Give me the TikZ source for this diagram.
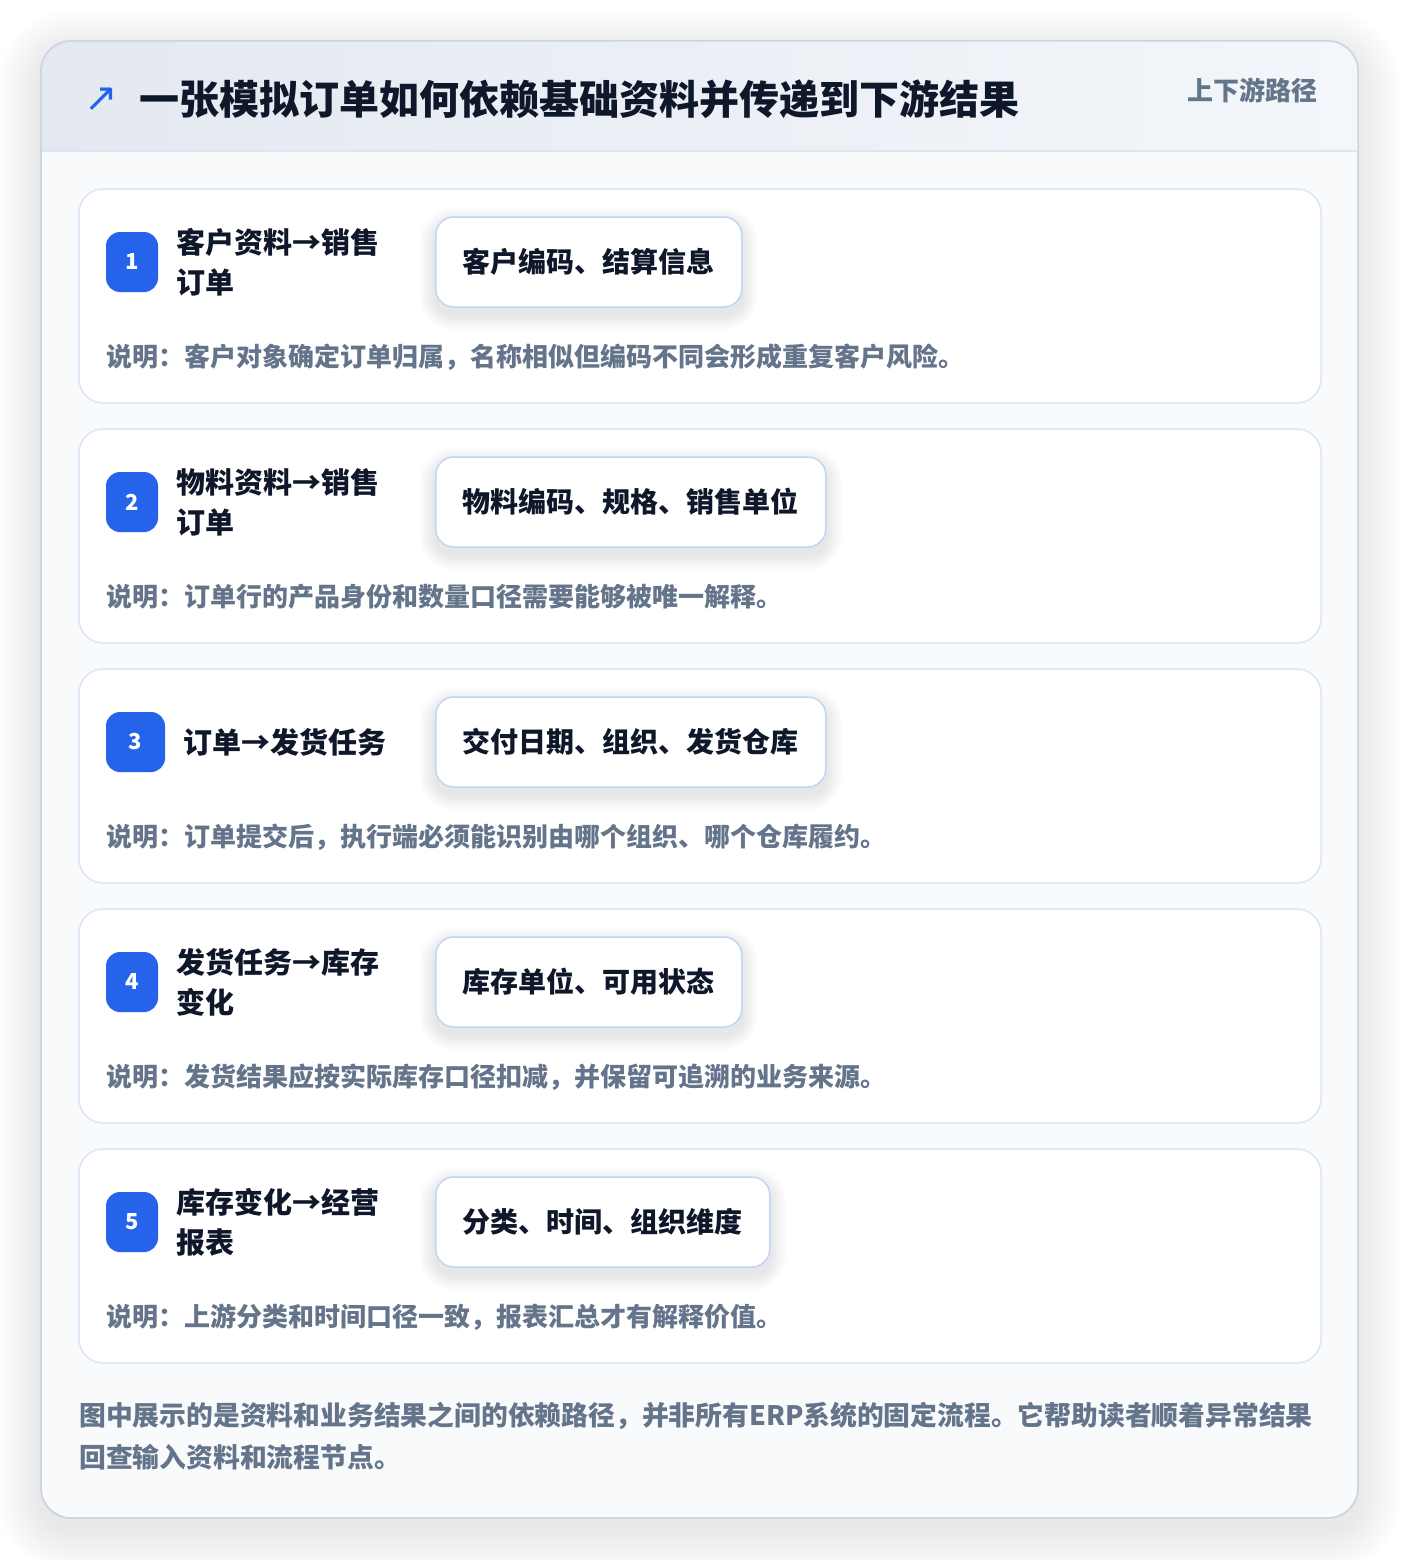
\documentclass[tikz,border=0pt]{standalone}
\usepackage{fontspec}
\setmainfont{Noto Sans CJK SC}
\newfontfamily\symfont{DejaVu Sans}
\pgfdeclarelayer{bg}
\pgfdeclarelayer{sh}
\pgfsetlayers{bg,sh,main}
\definecolor{ink}{HTML}{0F172A}
\definecolor{muted}{HTML}{64748B}
\definecolor{brand}{HTML}{2563EB}
\definecolor{cardline}{HTML}{CBD5E1}
\definecolor{cardbody}{HTML}{F9FAFC}
\definecolor{hdrL}{HTML}{E4E9F1}
\definecolor{hdrR}{HTML}{F3F6FA}
\definecolor{hdrline}{HTML}{DBE6F5}
\definecolor{stepline}{HTML}{DCE7F6}
\definecolor{chipline}{HTML}{BFD6F6}
\tikzset{
  outercard/.style={draw=cardline, line width=1.5pt, fill=cardbody, rounded corners=30pt,
    minimum width=1317pt, minimum height=1477pt, inner sep=0pt},
  stepcard/.style={draw=stepline, line width=1.5pt, fill=white, rounded corners=24pt,
    minimum width=1242pt, minimum height=214pt, inner sep=0pt},
  badge/.style={fill=brand, rounded corners=14pt, minimum height=60pt, inner sep=0pt,
    text=white, font=\fontsize{22}{24}\selectfont\bfseries},
  steptitle/.style={anchor=west, inner sep=0pt, align=left, text=ink,
    font=\fontsize{29}{40}\selectfont\bfseries},
  chip/.style={anchor=west, draw=chipline, line width=1.5pt, fill=white, rounded corners=18pt,
    minimum height=90pt, inner xsep=27pt, inner ysep=0pt, text=ink,
    font=\fontsize{28}{30}\selectfont\bfseries},
  softshadow/.style={fill=black, opacity=0.006},
  desc/.style={anchor=west, inner sep=0pt, text=muted, font=\fontsize{26}{28}\selectfont\bfseries},
}
\newcommand\mkstep[6]{%
  \begin{pgfonlayer}{bg}
    \node[stepcard] (s#1) at (700, #2+107) {};
  \end{pgfonlayer}
  \node[badge, minimum width=#3pt] (b#1) at (106+#3/2, #2+73) {#1};
  \node[steptitle] (t#1) at (106+#3+18, #2+73) {#4};
  \node[chip] (c#1) at (435, #2+73) {#5};
  \begin{pgfonlayer}{sh}
    \foreach \i in {1,...,12}{
      \fill[softshadow, rounded corners={(18+\i*1.3)*1pt}]
        ([xshift={-\i*1.3pt}, yshift={-(7+\i*1.3)*1pt}]c#1.south west)
        rectangle ([xshift={\i*1.3pt}, yshift={(-7+\i*1.3)*1pt}]c#1.north east);
    }
  \end{pgfonlayer}
  \node[desc] (d#1) at (106, #2+168) {说明：#6};
}
\begin{document}
\begin{tikzpicture}[x=1pt,y=-1pt]
\useasboundingbox (0,0) rectangle (1400,1560);
\begin{pgfonlayer}{bg}
\fill[white] (0,0) rectangle (1400,1560);
\foreach \i in {1,...,22}{
  \fill[fill=black, opacity=0.0042, rounded corners={(30+\i*2)*1pt}]
    (41-\i*2, 41+12-\i*2) rectangle (1358+\i*2, 1518+12+\i*2);
}
\node[outercard] (card) at (699.5,779.5) {};
\begin{scope}
  \clip[rounded corners=30pt] (41,41) rectangle (1358,1518);
  \shade[left color=hdrL, right color=hdrR] (41,41) rectangle (1358,151);
\end{scope}
\draw[hdrline, line width=1.5pt] (42,151) -- (1357,151);
\draw[cardline, line width=1.5pt, rounded corners=30pt] (41,41) rectangle (1358,1518);
\end{pgfonlayer}
\node[text=brand, inner sep=0pt, font=\symfont\fontsize{40}{42}\selectfont] (icon) at (101,100) {↗};
\node[anchor=west, inner sep=0pt, text=ink, font=\fontsize{40}{44}\selectfont\bfseries] (title) at (139,99) {一张模拟订单如何依赖基础资料并传递到下游结果};
\node[anchor=east, inner sep=0pt, text=muted, font=\fontsize{26}{28}\selectfont\bfseries] (tag) at (1318,90) {上下游路径};
\mkstep{1}{189}{52}{客户资料→销售\\订单}{客户编码、结算信息}{客户对象确定订单归属，名称相似但编码不同会形成重复客户风险。}
\mkstep{2}{429}{52}{物料资料→销售\\订单}{物料编码、规格、销售单位}{订单行的产品身份和数量口径需要能够被唯一解释。}
\mkstep{3}{669}{59}{订单→发货任务}{交付日期、组织、发货仓库}{订单提交后，执行端必须能识别由哪个组织、哪个仓库履约。}
\mkstep{4}{909}{52}{发货任务→库存\\变化}{库存单位、可用状态}{发货结果应按实际库存口径扣减，并保留可追溯的业务来源。}
\mkstep{5}{1149}{52}{库存变化→经营\\报表}{分类、时间、组织维度}{上游分类和时间口径一致，报表汇总才有解释价值。}
\node[anchor=west, inner sep=0pt, align=left, text=muted, font=\fontsize{26.8}{42}\selectfont\bfseries] (foot) at (79,1436) {图中展示的是资料和业务结果之间的依赖路径，并非所有ERP系统的固定流程。它帮助读者顺着异常结果\\回查输入资料和流程节点。};
\end{tikzpicture}
\end{document}
